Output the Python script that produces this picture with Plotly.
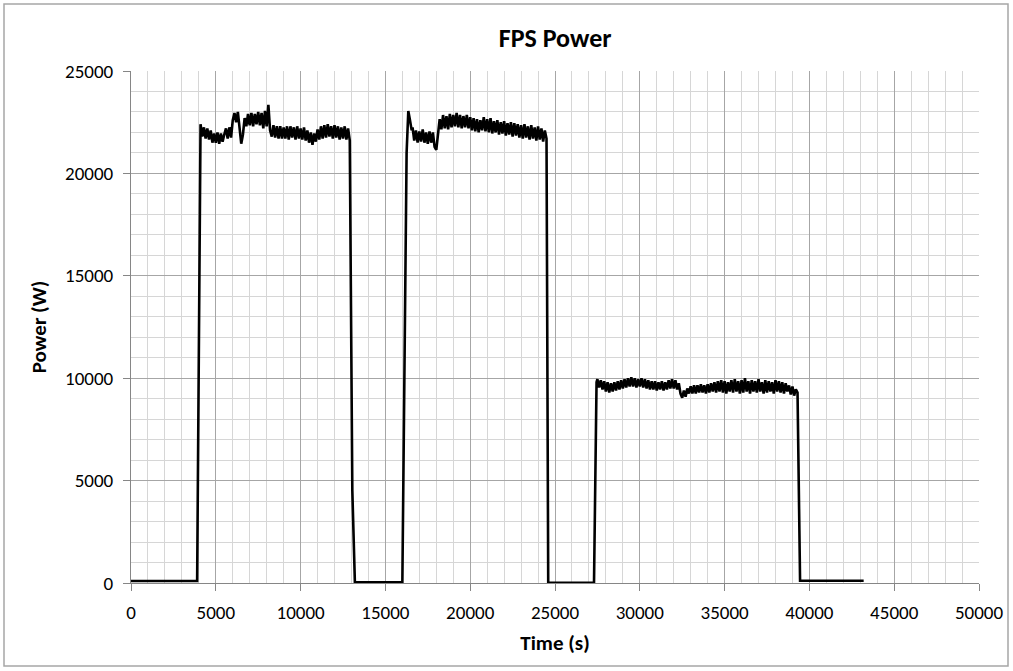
import plotly.graph_objects as go

# Idle segments (time s, power W)
idle0_t = [0, 1000, 2000, 3000, 3900]
idle0_p = [100, 100, 95, 100, 100]

# Run 1 plateau, sampled every 100 s
run1_start = 4100
run1_step = 100
run1_p = [22400, 21800, 22250, 21700, 22200, 21650, 22100, 21500, 21950, 21500,
          22000, 21450, 21950, 21550, 21900, 22200, 21700, 22250, 21750, 22600,
          22950, 22500, 23000, 22200, 21450, 21900, 22700, 22300, 22900, 22350,
          22950, 22300, 22900, 22400, 23000, 22350, 22950, 22200, 23050, 22300,
          23350, 22100, 21800, 22350, 21750, 22300, 21700, 22300, 21700, 22250,
          21700, 22300, 21650, 22300, 21750, 22250, 21650, 22300, 21700, 22200,
          21650, 22250, 21600, 22100, 21500, 22000, 21400, 21950, 21550, 22150,
          21650, 22300, 21700, 22350, 21750, 22400, 21800, 22300, 21700, 22350,
          21750, 22300, 21650, 22250, 21700, 22300, 21650, 22200, 21600]
drop1_t = [13050, 13200]
drop1_p = [4500, 50]

idle1_t = [14000, 15000, 16000]
idle1_p = [40, 35, 40]

# Run 2
rise2_t = [16250, 16350, 16450, 16550]
rise2_p = [21000, 23050, 22600, 22100]
run2_start = 16600
run2_step = 100
run2_p = [22250, 21600, 22100, 21500, 22050, 21550, 22150, 21500, 22000, 21450,
          22050, 21500, 22000, 21300, 21150, 21800, 22650, 22150, 22850, 22200,
          22800, 22150, 22900, 22250, 22850, 22300, 22950, 22250, 22850, 22200,
          22800, 22250, 22850, 22200, 22750, 22100, 22700, 22050, 22650, 22000,
          22600, 22100, 22750, 22050, 22650, 22000, 22700, 21950, 22550, 22000,
          22600, 21900, 22500, 21950, 22550, 21850, 22450, 21900, 22500, 21800,
          22450, 21850, 22400, 21750, 22350, 21700, 22400, 21750, 22300, 21650,
          22350, 21700, 22250, 21600, 22300, 21650, 22200, 21550, 22100]
drop2_t = [24500, 24600]
drop2_p = [21700, 5]

idle2_t = [25500, 26500, 27300]
idle2_p = [5, 5, 10]

# Run 3
rise3_t = [27450]
rise3_p = [9800]
run3_start = 27500
run3_step = 100
run3_p = [9950, 9550, 9900, 9450, 9850, 9350, 9800, 9300, 9750, 9350,
          9800, 9400, 9850, 9450, 9900, 9500, 9950, 9550, 10000, 9600,
          10050, 9600, 10000, 9550, 9950, 9600, 10000, 9550, 9950, 9500,
          9900, 9450, 9850, 9450, 9850, 9400, 9800, 9450, 9850, 9400,
          9800, 9450, 9900, 9500, 9950, 9500, 9900, 9450, 9750, 9250,
          9050, 9400, 9100, 9500, 9250, 9600, 9250, 9650, 9250, 9650,
          9300, 9700, 9300, 9650, 9250, 9700, 9300, 9750, 9350, 9800,
          9300, 9850, 9350, 9900, 9300, 9850, 9250, 9800, 9350, 9900,
          9300, 9950, 9350, 9850, 9250, 9900, 9300, 10000, 9350, 9850,
          9250, 9900, 9350, 9850, 9300, 9950, 9350, 9800, 9250, 9900,
          9300, 9850, 9350, 9800, 9250, 9900, 9350, 9850, 9300, 9800,
          9250, 9750, 9350, 9650, 9200, 9600, 9150, 9450]
drop3_t = [39300, 39450]
drop3_p = [9300, 110]

idle3_t = [40500, 41500, 42500, 43200]
idle3_p = [110, 105, 110, 110]


def run_times(start, step, vals):
    return [start + step * i for i in range(len(vals))]


time = (idle0_t + run_times(run1_start, run1_step, run1_p) + drop1_t + idle1_t
        + rise2_t + run_times(run2_start, run2_step, run2_p) + drop2_t + idle2_t
        + rise3_t + run_times(run3_start, run3_step, run3_p) + drop3_t + idle3_t)
power = (idle0_p + run1_p + drop1_p + idle1_p
         + rise2_p + run2_p + drop2_p + idle2_p
         + rise3_p + run3_p + drop3_p + idle3_p)

FONT = "Carlito, Calibri, Lato, sans-serif"

fig = go.Figure()
fig.add_trace(go.Scatter(x=time, y=power, mode="lines",
                         line=dict(color="black", width=2.6), showlegend=False))

axis = dict(showline=True, linecolor="#868686", linewidth=1,
            ticks="outside", ticklen=7, tickcolor="#868686",
            showgrid=True, gridcolor="#a6a6a6", gridwidth=1, zeroline=False,
            minor=dict(dtick=1000, showgrid=True, gridcolor="#d6d6d6", ticks=""),
            tickformat="d", automargin=False,
            tickfont=dict(family=FONT, size=19, color="black"))

fig.update_xaxes(axis, range=[0, 50000], dtick=5000, tick0=0, ticklabelstandoff=5,
                 title=dict(text="<b>Time (s)</b>", font=dict(family=FONT, size=21, color="black"),
                            standoff=12))
fig.update_yaxes(axis, range=[0, 25000], dtick=5000, tick0=0, ticklabelstandoff=6,
                 title=dict(text="<b>Power (W)</b>", font=dict(family=FONT, size=21, color="black"),
                            standoff=12))

fig.update_layout(
    width=1013, height=671,
    margin=dict(l=131, r=34, t=71, b=88),
    paper_bgcolor="white", plot_bgcolor="white",
    font=dict(family=FONT, color="black"),
    title=dict(text="<b>FPS Power</b>", x=0.548, xanchor="center",
               y=1 - 38 / 671, yanchor="middle", font=dict(family=FONT, size=26, color="black")),
)

# chart area border
fig.add_shape(type="rect", xref="paper", yref="paper",
              x0=(4 - 131) / 848, x1=(1008 - 131) / 848,
              y0=(583 - 666) / 512, y1=(583 - 4) / 512,
              line=dict(color="#a6a6a6", width=1.5), fillcolor="rgba(0,0,0,0)")

fig.write_html("out.html", config={"displayModeBar": False},
               post_script="document.body.style.margin='0';")
